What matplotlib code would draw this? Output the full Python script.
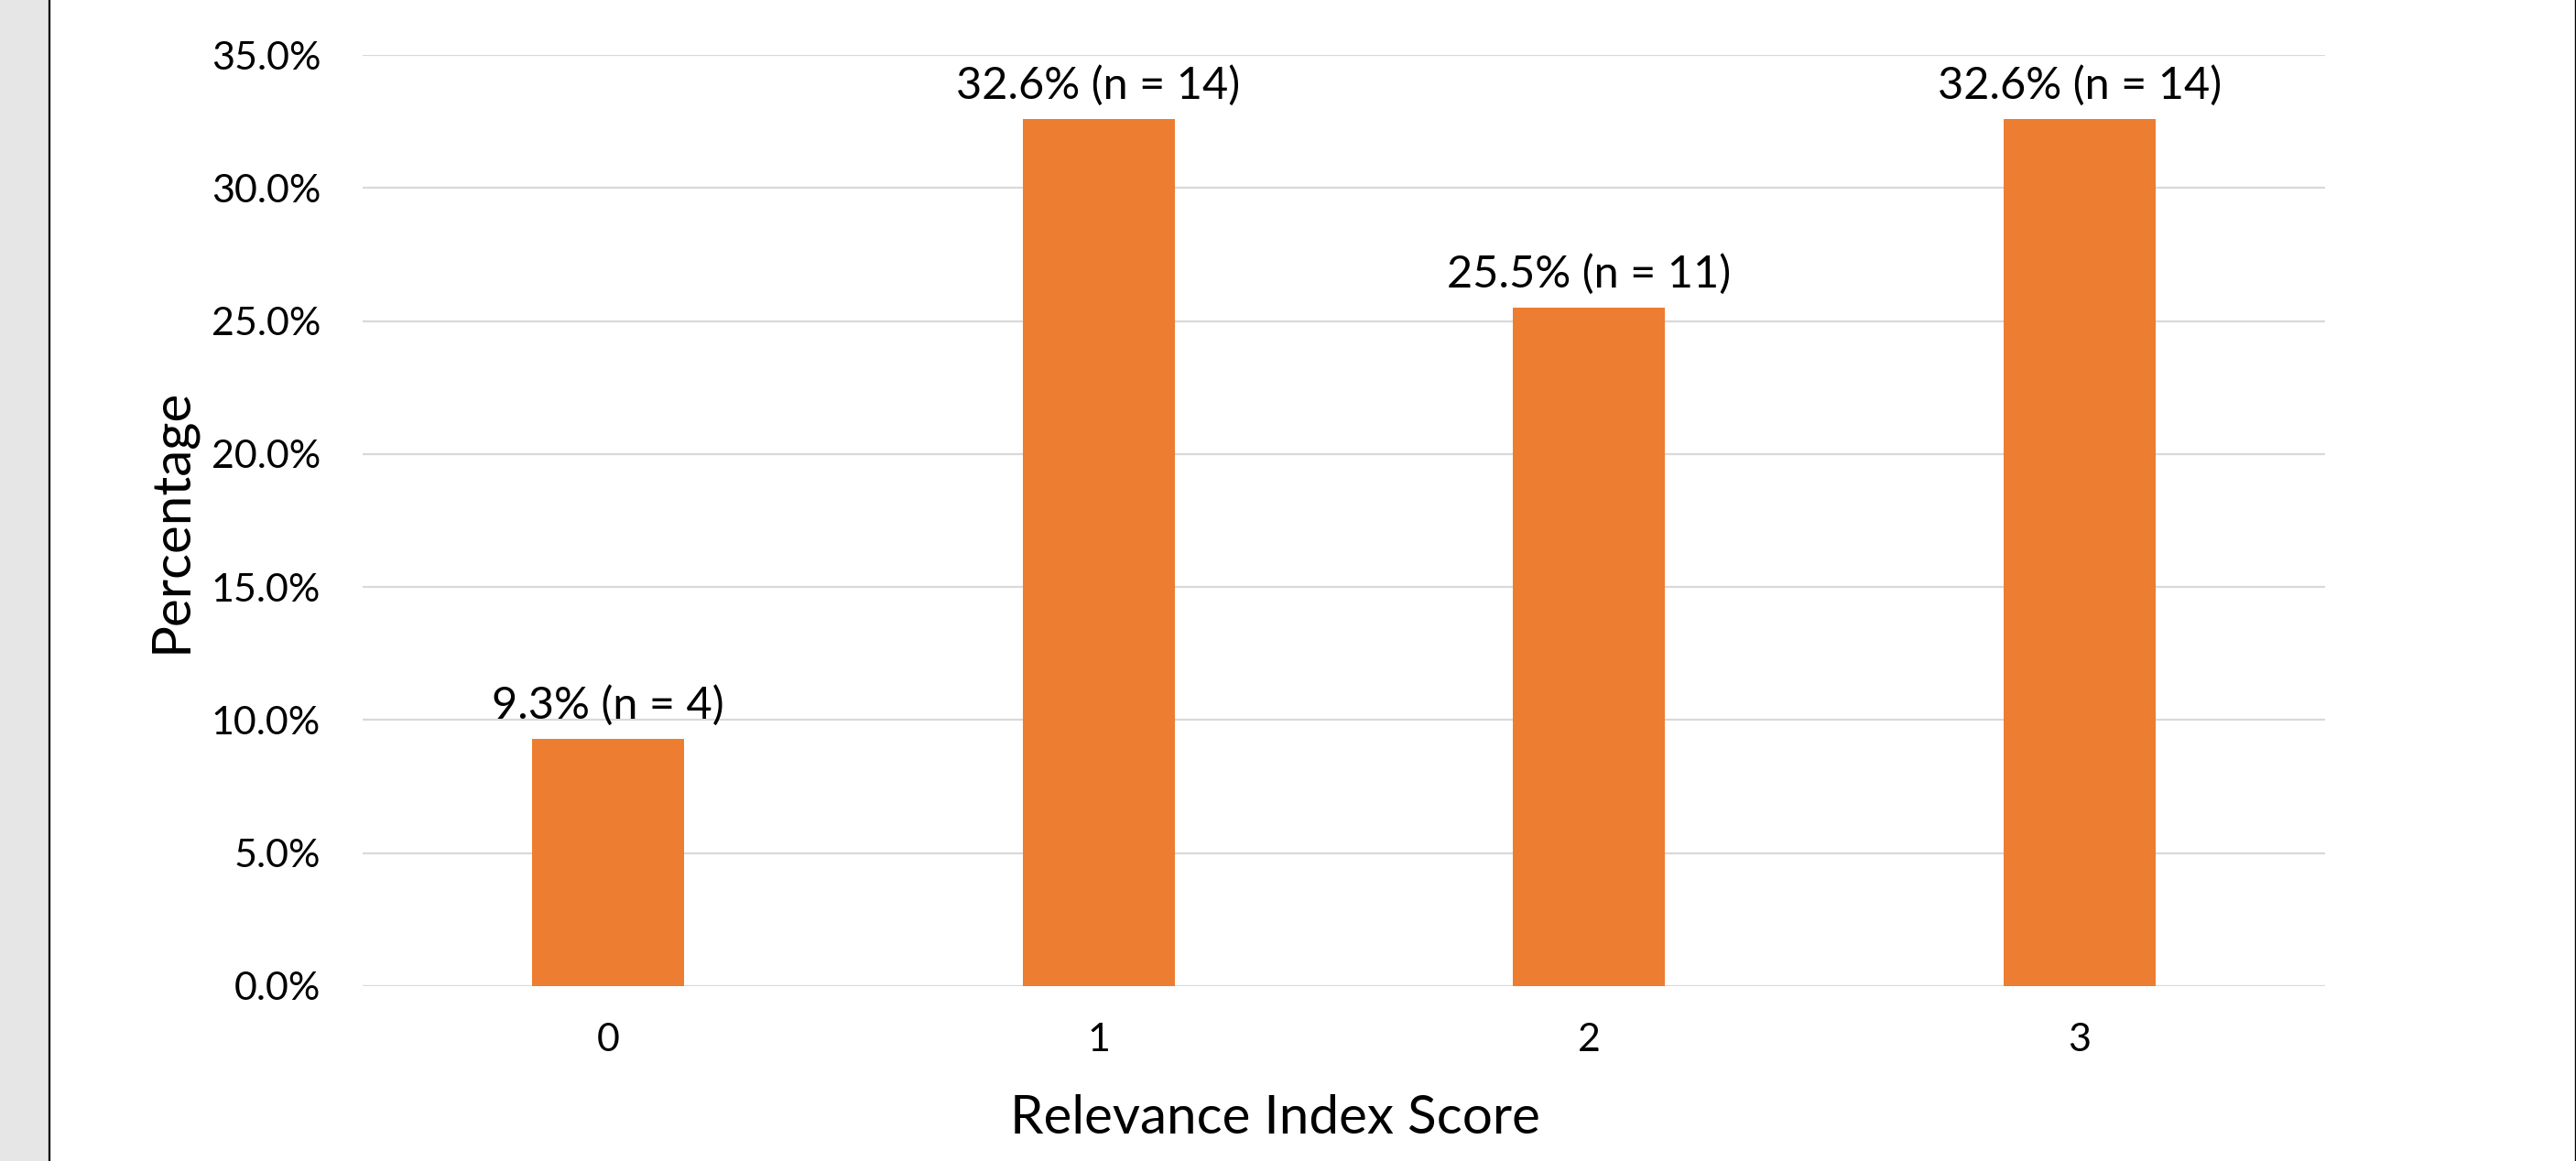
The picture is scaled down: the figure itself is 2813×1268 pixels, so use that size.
import matplotlib.pyplot as plt
from matplotlib.lines import Line2D
from matplotlib.patches import Rectangle
from matplotlib.ticker import FuncFormatter

# Data
CATEGORIES = ["0", "1", "2", "3"]
PERCENTAGES = [9.3, 32.6, 25.5, 32.6]
COUNTS = [4, 14, 11, 14]
Y_TICKS = [0, 5, 10, 15, 20, 25, 30, 35]

BAR_COLOR = "#ED7D31"
GRID_COLOR = "#D9D9D9"
FONT = ["Lato", "DejaVu Sans"]

plt.rcParams["font.family"] = FONT

W, H, DPI = 2813, 1268, 100
fig = plt.figure(figsize=(W / DPI, H / DPI), dpi=DPI)
fig.patch.set_facecolor("white")

# gray strip and frame lines at the page edges
fig.patches.append(Rectangle((0, 0), 53 / W, 1, transform=fig.transFigure,
                             facecolor="#E6E6E6", edgecolor="none", zorder=0))
fig.lines.append(Line2D([54 / W, 54 / W], [0, 1], transform=fig.transFigure,
                        color="black", linewidth=1.6))
fig.lines.append(Line2D([2812 / W, 2812 / W], [0, 1], transform=fig.transFigure,
                        color="black", linewidth=1.0))

ax_left, ax_right = 396, 2539
ax = fig.add_axes([ax_left / W, 1 - 1077 / H, (ax_right - ax_left) / W, (1077 - 60) / H])
x = list(range(len(CATEGORIES)))
ax.bar(x, PERCENTAGES, width=0.31, color=BAR_COLOR, zorder=3)

for xi, pct, n in zip(x, PERCENTAGES, COUNTS):
    ax.annotate(f"{pct:.1f}% (n = {n})", (xi, pct), xytext=(0, 10),
                textcoords="offset points", ha="center", va="bottom",
                fontsize=35, color="black", zorder=4)

ax.set_xlim(-0.5, len(CATEGORIES) - 0.5)
ax.set_ylim(0, 35)
ax.set_yticks(Y_TICKS)
ax.yaxis.set_major_formatter(FuncFormatter(lambda v, _: f"{v:.1f}%"))
ax.set_xticks(x)
ax.set_xticklabels(CATEGORIES)
ax.tick_params(axis="both", length=0, labelsize=31, colors="black")
ax.tick_params(axis="y", pad=33)
ax.tick_params(axis="x", pad=29)

ax.grid(axis="y", color=GRID_COLOR, linewidth=1.6, zorder=0)
for side in ("top", "right", "left", "bottom"):
    ax.spines[side].set_visible(False)

ax.set_xlabel("Relevance Index Score", fontsize=42)
# the axis title sits a little left of the plot-area centre
ax.xaxis.set_label_coords((1392 - ax_left) / (ax_right - ax_left), -0.116)
ax.set_ylabel("Percentage", fontsize=42, labelpad=12)

fig.savefig("out.png", dpi=DPI)
